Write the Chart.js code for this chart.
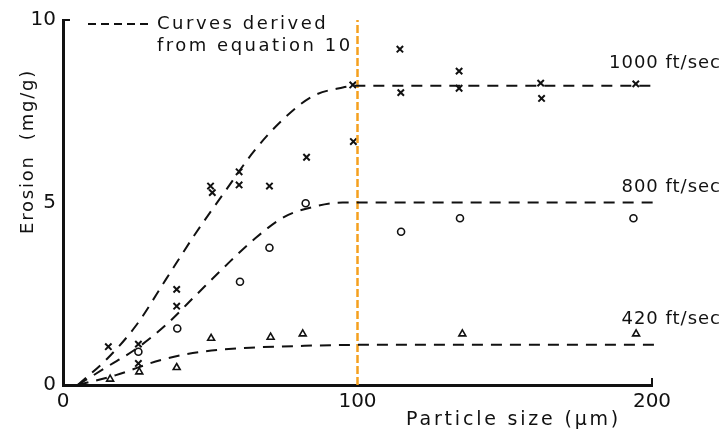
<!DOCTYPE html>
<html>
<head>
<meta charset="utf-8">
<script src="https://cdn.jsdelivr.net/npm/chart.js@4/dist/chart.umd.min.js"></script>
<style>
  html, body { margin: 0; padding: 0; background: #fff; }
  #wrap { width: 727px; height: 434px; position: relative; }
</style>
</head>
<body>
<div id="wrap"><canvas id="c" width="727" height="434"></canvas></div>
<script>
// ---- Data ----
const xTicks = [0, 100, 200];
const yTicks = [0, 5, 10];

// measured points: 1000 ft/sec (crosses)
const pts1000X = [15.4, 25.6, 25.6, 38.6, 38.6, 50.1, 50.7, 59.8, 59.8, 70.1, 82.7, 98.6, 98.4, 114.4, 114.7, 134.5, 134.5, 162.2, 162.5, 194.5];
const pts1000Y = [1.05, 1.12, 0.59, 2.62, 2.16, 5.45, 5.27, 5.84, 5.48, 5.45, 6.24, 6.67, 8.22, 9.2, 8.01, 8.6, 8.13, 8.27, 7.85, 8.25];

// measured points: 800 ft/sec (circles)
const pts800X = [25.6, 38.8, 60.1, 70.1, 82.4, 114.8, 134.8, 193.7];
const pts800Y = [0.91, 1.55, 2.83, 3.76, 4.98, 4.2, 4.57, 4.57];

// measured points: 420 ft/sec (triangles)
const pts420X = [16.0, 25.9, 38.6, 50.3, 70.5, 81.4, 135.6, 194.6];
const pts420Y = [0.16, 0.36, 0.48, 1.28, 1.31, 1.40, 1.40, 1.40];

// dashed curves
const curve1000X = [5, 15, 25, 35, 45, 55, 65, 75, 85, 95, 100, 150, 202];
const curve1000Y = [0, 0.72, 1.65, 2.9, 4.15, 5.3, 6.42, 7.3, 7.92, 8.15, 8.2, 8.2, 8.2];
const curve800X = [5, 15, 25, 35, 45, 55, 65, 75, 85, 95, 100, 150, 202];
const curve800Y = [0, 0.5, 1.0, 1.65, 2.45, 3.25, 4.0, 4.6, 4.88, 5.0, 5.0, 5.0, 5.0];
const curve420X = [5, 18, 33, 47, 63.5, 80.5, 100, 150, 202];
const curve420Y = [0, 0.27, 0.68, 0.91, 1.02, 1.07, 1.1, 1.1, 1.1];

// vertical marker at 100 µm
const markerX = [100, 100];
const markerY = [0, 10];

const seriesLabels = ['1000 ft/sec', '800 ft/sec', '420 ft/sec'];

// ---- build ----
const zip = (xs, ys) => xs.map((x, i) => ({ x: x, y: ys[i] }));
const FONT = '"DejaVu Sans", "Liberation Sans", sans-serif';
const INK = '#111';

const curveStyle = {
  showLine: true, pointRadius: 0, borderColor: INK, borderWidth: 2,
  borderDash: [11, 8], cubicInterpolationMode: 'monotone', clip: false, fill: false
};

const annotations = {
  id: 'annotations',
  afterDraw(chart) {
    const ctx = chart.ctx;
    const xs = chart.scales.x, ys = chart.scales.y;
    ctx.save();
    // end ticks (top of y axis, right end of x axis)
    ctx.strokeStyle = INK;
    ctx.lineWidth = 2;
    ctx.beginPath();
    ctx.moveTo(xs.getPixelForValue(0), ys.getPixelForValue(10));
    ctx.lineTo(xs.getPixelForValue(0) + 7, ys.getPixelForValue(10));
    ctx.moveTo(xs.getPixelForValue(200), ys.getPixelForValue(0));
    ctx.lineTo(xs.getPixelForValue(200), ys.getPixelForValue(0) - 7);
    ctx.stroke();

    ctx.fillStyle = INK;
    ctx.textBaseline = 'middle';
    // series labels
    ctx.font = '18px ' + FONT;
    ctx.textAlign = 'right';
    ctx.letterSpacing = '1px';
    ctx.fillText(seriesLabels[0], 721, ys.getPixelForValue(8.82));
    ctx.fillText(seriesLabels[1], 721, ys.getPixelForValue(5.42));
    ctx.fillText(seriesLabels[2], 721, ys.getPixelForValue(1.8));
    // legend
    ctx.lineWidth = 2;
    ctx.setLineDash([8, 5]);
    ctx.beginPath();
    ctx.moveTo(88, 24);
    ctx.lineTo(152, 24);
    ctx.stroke();
    ctx.setLineDash([]);
    ctx.textAlign = 'left';
    ctx.font = '18px ' + FONT;
    ctx.letterSpacing = '2.5px';
    ctx.fillText('Curves derived', 157, 24);
    ctx.fillText('from equation 10', 157, 46);
    // x axis title
    ctx.textAlign = 'center';
    ctx.font = '19px ' + FONT;
    ctx.letterSpacing = '2.8px';
    ctx.fillText('Particle size (\u00b5m)', xs.getPixelForValue(153), 420);
    // y axis title
    ctx.font = '18px ' + FONT;
    ctx.translate(28, ys.getPixelForValue(6.4));
    ctx.rotate(-Math.PI / 2);
    ctx.letterSpacing = '1.8px';
    ctx.fillText('Erosion  (mg/g)', 0, 0);
    ctx.restore();
  }
};

new Chart(document.getElementById('c'), {
  type: 'scatter',
  data: {
    datasets: [
      Object.assign({ label: 'curve1000', data: zip(curve1000X, curve1000Y) }, curveStyle),
      Object.assign({ label: 'curve800', data: zip(curve800X, curve800Y) }, curveStyle),
      Object.assign({ label: 'curve420', data: zip(curve420X, curve420Y) }, curveStyle),
      {
        label: 'marker', data: zip(markerX, markerY), showLine: true, pointRadius: 0,
        borderColor: '#F5A01E', borderWidth: 2.5, borderDash: [8, 3], clip: false
      },
      {
        label: seriesLabels[0], data: zip(pts1000X, pts1000Y), pointStyle: 'crossRot',
        pointRadius: 4.5, borderColor: INK, borderWidth: 2, clip: false
      },
      {
        label: seriesLabels[1], data: zip(pts800X, pts800Y), pointStyle: 'circle',
        pointRadius: 3.5, borderColor: INK, backgroundColor: '#fff', borderWidth: 1.6, clip: false
      },
      {
        label: seriesLabels[2], data: zip(pts420X, pts420Y), pointStyle: 'triangle',
        pointRadius: 4, borderColor: INK, backgroundColor: '#fff', borderWidth: 1.6, clip: false
      }
    ]
  },
  options: {
    responsive: false,
    animation: false,
    events: [],
    layout: { padding: { left: 0, right: 75, top: 20, bottom: 0 } },
    plugins: { legend: { display: false }, tooltip: { enabled: false } },
    scales: {
      x: {
        type: 'linear', min: 0, max: 200,
        afterBuildTicks: s => { s.ticks = xTicks.map(v => ({ value: v })); },
        afterFit: s => { s.height = 49; },
        grid: { display: false, drawTicks: false },
        border: { display: true, color: INK, width: 3 },
        ticks: { color: INK, font: { family: FONT, size: 20 }, padding: 5, maxRotation: 0 }
      },
      y: {
        type: 'linear', min: 0, max: 10,
        afterBuildTicks: s => { s.ticks = yTicks.map(v => ({ value: v })); },
        afterFit: s => { s.width = 63; },
        grid: { display: false, drawTicks: false },
        border: { display: true, color: INK, width: 3 },
        ticks: { color: INK, font: { family: FONT, size: 20 }, padding: 7 }
      }
    }
  },
  plugins: [annotations]
});
</script>
</body>
</html>
